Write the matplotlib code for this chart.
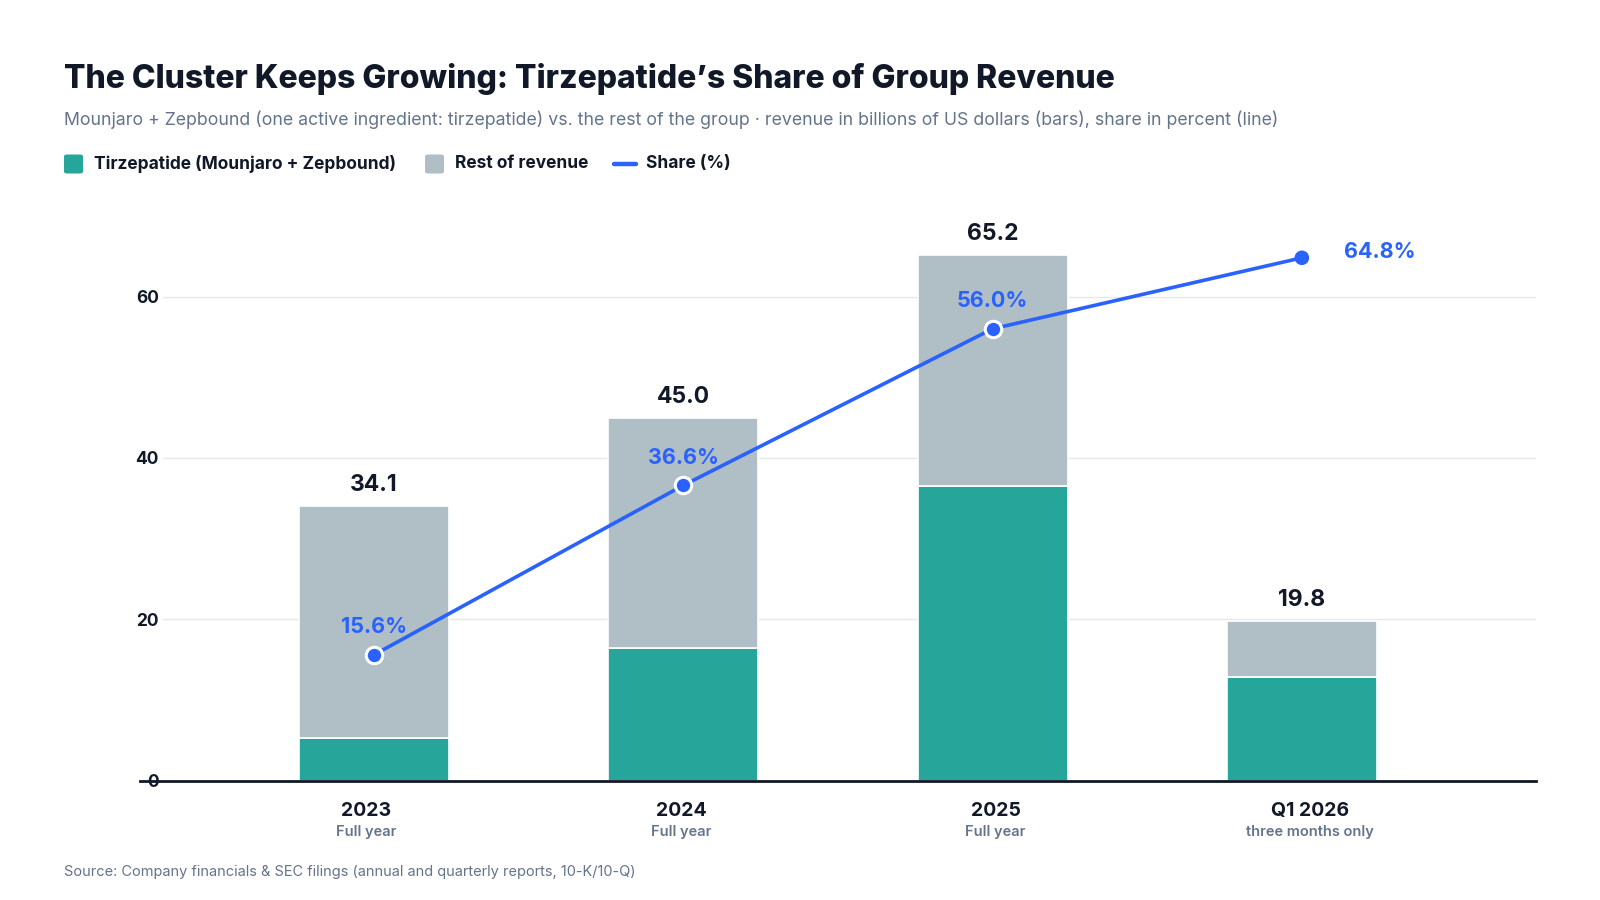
import matplotlib
matplotlib.use("Agg")
import matplotlib.pyplot as plt
from matplotlib.patches import FancyBboxPatch
from matplotlib.lines import Line2D

plt.rcParams['font.family'] = ['Inter', 'DejaVu Sans']

# data (billions USD, share in %)
periods = ["2023", "2024", "2025", "Q1 2026"]
period_notes = ["Full year", "Full year", "Full year", "three months only"]
total_rev = [34.1, 45.0, 65.2, 19.8]
tirz_rev = [5.32, 16.47, 36.51, 12.83]
share_pct = [15.6, 36.6, 56.0, 64.8]
rest_rev = [t - z for t, z in zip(total_rev, tirz_rev)]

TEAL = "#26a69a"
GREY = "#b0bec5"
BLUE = "#2962ff"
DARK = "#111827"
MUTED = "#64748b"

W, H = 1600, 900
fig = plt.figure(figsize=(16, 9), dpi=100)
fig.patch.set_facecolor("white")

ax = fig.add_axes((163 / W, 1 - 780.7 / H, (1536 - 163) / W, (780.7 - 199.7) / H))
x = list(range(len(periods)))

ax.bar(x, tirz_rev, width=0.485, color=TEAL, edgecolor="white", linewidth=1.2, zorder=2)
ax.bar(x, rest_rev, bottom=tirz_rev, width=0.485, color=GREY, edgecolor="white", linewidth=1.2, zorder=2)

ax.plot(x, share_pct, color=BLUE, lw=2.6, zorder=4, solid_capstyle="round")
ax.scatter(x[:-1], share_pct[:-1], s=140, color=BLUE, edgecolor="white", linewidth=2.2, zorder=5)
ax.scatter(x[-1:], share_pct[-1:], s=110, color=BLUE, edgecolor="none", zorder=5)

for xi, tot in zip(x, total_rev):
    ax.annotate(f"{tot:.1f}", (xi, tot), xytext=(0, 7), textcoords="offset points",
                ha="center", va="bottom", fontsize=16.5, fontweight="bold", color=DARK, zorder=6)

for xi, s in zip(x[:-1], share_pct[:-1]):
    ax.annotate(f"{s:.1f}%", (xi, s), xytext=(0, 20), textcoords="offset points",
                ha="center", va="center", fontsize=15.5, fontweight="bold", color=BLUE, zorder=6)
ax.annotate(f"{share_pct[-1]:.1f}%", (x[-1], share_pct[-1]), xytext=(56, 4), textcoords="offset points",
            ha="center", va="center", fontsize=15.5, fontweight="bold", color=BLUE, zorder=6)

ax.set_xlim(-0.682, 3.757)
ax.set_ylim(0, 72)
ax.set_yticks([0, 20, 40, 60])
ax.tick_params(axis="y", length=0, pad=3, labelsize=12.5, labelcolor=DARK)
for lbl in ax.get_yticklabels():
    lbl.set_fontweight("bold")
ax.grid(axis="y", color="#e5e7eb", lw=1, zorder=0)
ax.set_axisbelow(True)
for sp in ax.spines.values():
    sp.set_visible(False)
ax.axhline(0, xmin=-23 / 1373, xmax=1, color=DARK, lw=2, clip_on=False, zorder=7)

# category labels (slightly spread relative to the bars, as in the source)
ax.set_xticks([])
for i, (p, n) in enumerate(zip(periods, period_notes)):
    xp = -0.024 + i * 1.0167
    ax.text(xp, -30 / 581, p, transform=ax.get_xaxis_transform(), ha="center", va="center",
            fontsize=14, fontweight="bold", color=DARK)
    ax.text(xp, -51 / 581, n, transform=ax.get_xaxis_transform(), ha="center", va="center",
            fontsize=10.5, fontweight="semibold", color=MUTED)

# header
fig.text(64 / W, 1 - 79 / H, "The Cluster Keeps Growing: Tirzepatide\u2019s Share of Group Revenue",
         ha="left", va="center", fontsize=23, fontweight="heavy", color=DARK)
fig.text(64 / W, 1 - 120 / H,
         "Mounjaro + Zepbound (one active ingredient: tirzepatide) vs. the rest of the group \u00b7 "
         "revenue in billions of US dollars (bars), share in percent (line)",
         ha="left", va="center", fontsize=12.75, color=MUTED)

# legend
ly = 1 - 164 / H
sq = 19
for px, col in [(64, TEAL), (425, GREY)]:
    fig.patches.append(FancyBboxPatch((px / W, ly - sq / 2 / H), sq / W, sq / H,
                                      boxstyle="round,pad=0,rounding_size=0.002",
                                      transform=fig.transFigure, facecolor=col, edgecolor="none"))
fig.lines.append(Line2D([614 / W, 636 / W], [ly, ly], transform=fig.transFigure, color=BLUE, lw=3.2,
                        solid_capstyle="round"))
for px, txt in [(94, "Tirzepatide (Mounjaro + Zepbound)"), (455, "Rest of revenue"), (646, "Share (%)")]:
    fig.text(px / W, ly, txt, ha="left", va="center", fontsize=12.5, fontweight="bold", color=DARK)

fig.text(64 / W, 1 - 872 / H,
         "Source: Company financials & SEC filings (annual and quarterly reports, 10-K/10-Q)",
         ha="left", va="center", fontsize=10.5, color=MUTED)

fig.savefig("out.png", dpi=100, facecolor="white")
